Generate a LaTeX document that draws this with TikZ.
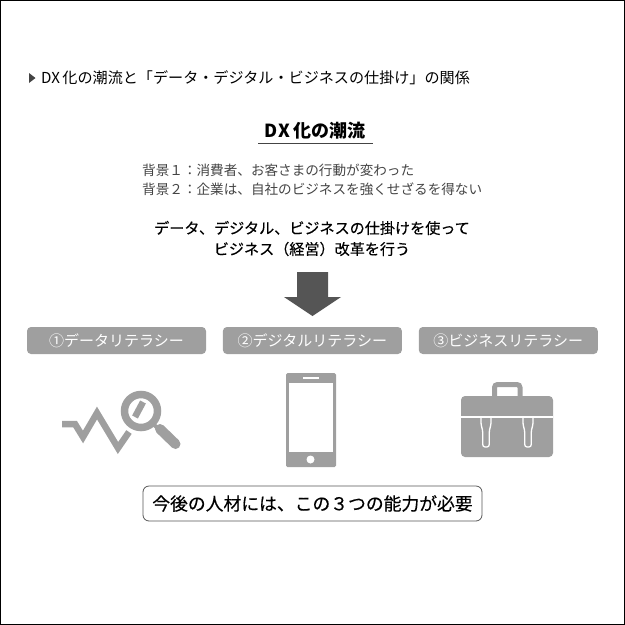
\documentclass[tikz,border=0pt]{standalone}
\usepackage{fontspec}
\setmainfont{Noto Sans CJK JP}
\newfontfamily\mediumfont[FakeBold=0.35]{Noto Sans CJK JP}
\usepackage{xcolor}
\usetikzlibrary{positioning}
\definecolor{iconGray}{HTML}{9F9F9F}
\definecolor{arrowGray}{HTML}{555555}
\definecolor{textGray}{HTML}{444444}
\newcommand{\zenOne}{\char"FF11 }
\newcommand{\zenTwo}{\char"FF12 }
\newcommand{\zenThree}{\char"FF13 }
\newcommand{\zenColon}{\char"FF1A }
\newcommand{\zenOpen}{\char"FF08 }
\newcommand{\zenClose}{\char"FF09 }
\tikzset{%
	heading/.style={
		text=black,
		font=\fontsize{15.1}{15.1}\selectfont,
		inner sep=0pt
	},
	reform/.style={
		text=black,
		font=\mediumfont\fontsize{15.1}{15.1}\selectfont,
		inner sep=0pt
	},
	background line/.style={
		anchor=west,
		text=textGray,
		font=\fontsize{13.6}{13.6}\selectfont,
		inner sep=0pt
	},
	literacy/.style={
		fill=iconGray,
		rounded corners=4pt,
		minimum width=179pt,
		minimum height=27pt,
		inner sep=0pt,
		text=white,
		font=\fontsize{15}{15}\selectfont
	},
	icon/.style={
		draw=iconGray,
		line join=miter
	},
}

\begin{document}
\begin{tikzpicture}[x=1pt,y=-1pt]
			\useasboundingbox (0,0) rectangle (625,625);
			% Frame
			\draw[black, line width=1pt] (0.5,0.5) rectangle (624.5,624.5);
			
			% Title line
			\fill[textGray] (29,73) -- (35.5,78) -- (29,83) -- cycle;
			\node[heading, anchor=west] (title) at (41,78) {DX\,化の潮流と「データ・デジタル・ビジネスの仕掛け」の関係};
			
			% Heading and its underline
			\node[text=black, inner sep=0pt, font=\fontsize{18}{18}\selectfont\bfseries] (trend) at (315,130.5) {D\kern1ptX\,化の潮流};
			\coordinate (rule left) at (258,143.7);
			\coordinate (rule right) at (373,143.7);
			\draw[textGray, line width=0.8pt] (rule left) -- (rule right);
			
			% Background lines
			\node[background line] (bg1) at (142,170) {背景\zenOne\zenColon 消費者、お客さまの行動が変わった};
			\node[background line] (bg2) at (142,189) {背景\zenTwo\zenColon 企業は、自社のビジネスを強くせざるを得ない};
			
			\node[reform] (reform1) at (312,228) {データ、デジタル、ビジネスの仕掛けを使って};
			\node[reform] (reform2) at (312,249) {ビジネス\zenOpen 経営\zenClose 改革を行う};
			
			% Big arrow
			\fill[arrowGray] (297,272) -- (328,272) -- (328,297) -- (341,297) -- (312.5,316) -- (284,297) -- (297,297) -- cycle;
			
			% Literacy labels
			\node[literacy] (data) at (116.5,340.5) {①データリテラシー};
			\node[literacy] (digital) [right=16.5pt of data] {②デジタルリテラシー};
			\node[literacy] (business) [right=16.5pt of digital] {③ビジネスリテラシー};
			
			% Chart with magnifier
			\draw[icon, line width=6.5pt] (62,424) -- (75,424) -- (83,437) -- (97,413) -- (118,448) -- (129,432);
			\draw[icon, line width=7.5pt] (141,411) circle (16.5);
			\draw[icon, line width=6.5pt] (143,402) -- (135,417);
			\draw[icon, line width=4pt] (152,423) -- (160,430);
			\draw[icon, line width=10pt, line cap=round] (160,429) -- (175.5,444);
			
			% Phone
			\fill[iconGray, rounded corners=1.5pt] (286,373) rectangle (336,467);
			\fill[white] (289,383) rectangle (333,452);
			\fill[white] (303,377.2) rectangle (319,378.6);
			\fill[white] (310.5,459.5) circle (4);
			
			% Briefcase
			\draw[icon, line width=5pt, rounded corners=3pt] (494.5,398) -- (494.5,384.5) -- (520,384.5) -- (520,398);
			\fill[iconGray, rounded corners=4pt] (461,396) rectangle (553,457);
			\draw[white, line width=2pt] (461,417) -- (553,417);
			\foreach \strapx in {486,528} {
				\draw[white, line width=1.3pt, rounded corners=2.5pt] (\strapx-5,418) -- (\strapx-5,425) -- (\strapx-3.3,430) -- (\strapx-3.3,447) -- (\strapx+3.3,447) -- (\strapx+3.3,430) -- (\strapx+5,425) -- (\strapx+5,418);
			}
			
			% Bottom message
			\node[draw=arrowGray, rounded corners=6pt, line width=0.8pt, minimum width=339pt, minimum height=35pt, inner sep=0pt, text=black, font=\mediumfont\fontsize{17.8}{17.8}\selectfont] (need) at (312.5,503.5) {今後の人材には、この\zenThree つの能力が必要};
		\end{tikzpicture}
\end{document}
